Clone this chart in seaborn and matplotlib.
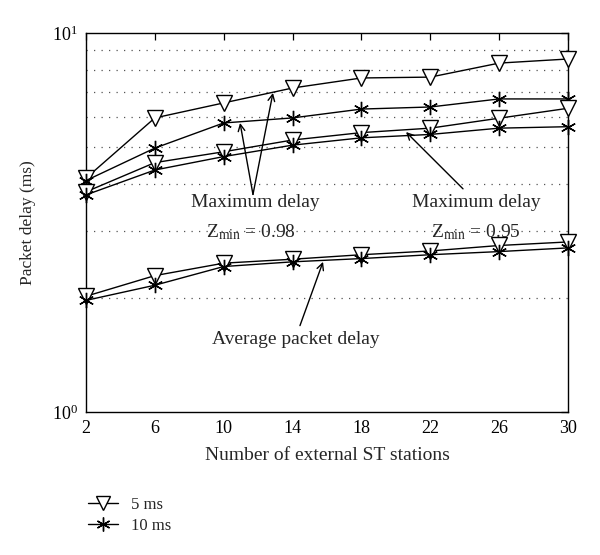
import numpy as np
import pandas as pd
import matplotlib
matplotlib.use("Agg")
import matplotlib.pyplot as plt
from matplotlib.lines import Line2D
import seaborn as sns

stations = [2, 6, 10, 14, 18, 22, 26, 30]
max98_5ms = [4.14, 5.97, 6.54, 7.16, 7.61, 7.65, 8.33, 8.54]
max98_10ms = [4.08, 4.97, 5.79, 5.97, 6.30, 6.38, 6.70, 6.70]
max95_5ms = [3.81, 4.55, 4.86, 5.22, 5.46, 5.61, 5.96, 6.33]
max95_10ms = [3.74, 4.35, 4.72, 5.06, 5.29, 5.40, 5.61, 5.66]
avg_5ms = [2.02, 2.29, 2.47, 2.53, 2.60, 2.66, 2.75, 2.81]
avg_10ms = [1.97, 2.16, 2.42, 2.49, 2.54, 2.60, 2.65, 2.71]
legend_labels = ["5 ms", "10 ms"]

sns.set_theme(style="white")
plt.rcParams["font.family"] = ["Liberation Serif", "DejaVu Serif"]
plt.rcParams["mathtext.fontset"] = "custom"
plt.rcParams["mathtext.rm"] = "Liberation Serif"
plt.rcParams["mathtext.it"] = "Liberation Serif:italic"

fig = plt.figure(figsize=(6.0, 5.55), dpi=100)
ax = fig.add_axes([0.1433, 0.2577, 0.8034, 0.6828])

tri = dict(marker="v", markersize=12, markerfacecolor="white",
           markeredgecolor="black", markeredgewidth=1.0)
ast = dict(marker=(6, 2, 0), markersize=11, markeredgecolor="black",
           markeredgewidth=1.0)

series = [
    (max98_5ms, tri), (max98_10ms, ast),
    (max95_5ms, tri), (max95_10ms, ast),
    (avg_5ms, tri), (avg_10ms, ast),
]
for vals, style in series:
    df = pd.DataFrame({"x": stations, "y": vals})
    sns.lineplot(data=df, x="x", y="y", ax=ax, color="black", linewidth=1.0,
                 clip_on=False, zorder=5, **style)

ax.set_yscale("log")
ax.set_ylim(1, 10)
ax.set_xlim(2, 30)
ax.set_xticks(stations)
ax.set_xticklabels([str(s) for s in stations])
ax.set_yticks([1, 10])
ax.set_yticklabels([r"$10^0$", r"$10^1$"])
ax.yaxis.set_minor_locator(matplotlib.ticker.LogLocator(base=10, subs=np.arange(2, 10)))
ax.yaxis.set_minor_formatter(matplotlib.ticker.NullFormatter())
ax.grid(False)
ax.grid(True, which="minor", axis="y", color="#555555", linestyle=(0, (1, 5)),
        linewidth=0.9)
ax.tick_params(which="major", direction="in", top=True, right=True, length=5,
               width=0.9, labelsize=13, colors="black", pad=6)
ax.tick_params(which="minor", length=0)
for sp in ax.spines.values():
    sp.set_color("black")
    sp.set_linewidth(1.0)

ax.set_xlabel("Number of external ST stations", fontsize=14, labelpad=7)
ax.set_ylabel("Packet delay (ms)", fontsize=12.5, labelpad=11)

fs = 14
ax.text(11.85, 3.58, "Maximum delay", ha="center", va="center", fontsize=fs)
ax.text(11.6, 2.98, r"$\mathrm{Z}_{\mathrm{min}}$ = 0.98", ha="center", va="center", fontsize=fs)
ax.text(24.65, 3.58, "Maximum delay", ha="center", va="center", fontsize=fs)
ax.text(24.65, 2.98, r"$\mathrm{Z}_{\mathrm{min}}$ = 0.95", ha="center", va="center", fontsize=fs)
ax.text(14.2, 1.55, "Average packet delay", ha="center", va="center", fontsize=fs)

arrow = dict(arrowstyle="->", color="black", lw=1.0, shrinkA=0, shrinkB=0)
ax.annotate("", xy=(10.95, 5.79), xytext=(11.70, 3.75), arrowprops=arrow)
ax.annotate("", xy=(12.86, 6.95), xytext=(11.70, 3.75), arrowprops=arrow)
ax.annotate("", xy=(20.59, 5.48), xytext=(23.9, 3.88), arrowprops=arrow)
ax.annotate("", xy=(15.77, 2.49), xytext=(14.43, 1.69), arrowprops=arrow)

handles = [
    Line2D([], [], color="black", linewidth=1.0, **{**tri, "markersize": 10}),
    Line2D([], [], color="black", linewidth=1.0, **{**ast, "markersize": 10}),
]
fig.legend(handles, legend_labels, loc="upper left", bbox_to_anchor=(0.1355, 0.1164),
           frameon=False, fontsize=12, handlelength=1.8, handletextpad=0.8,
           labelspacing=0.3, borderaxespad=0)

fig.savefig("out.png", dpi=100)
